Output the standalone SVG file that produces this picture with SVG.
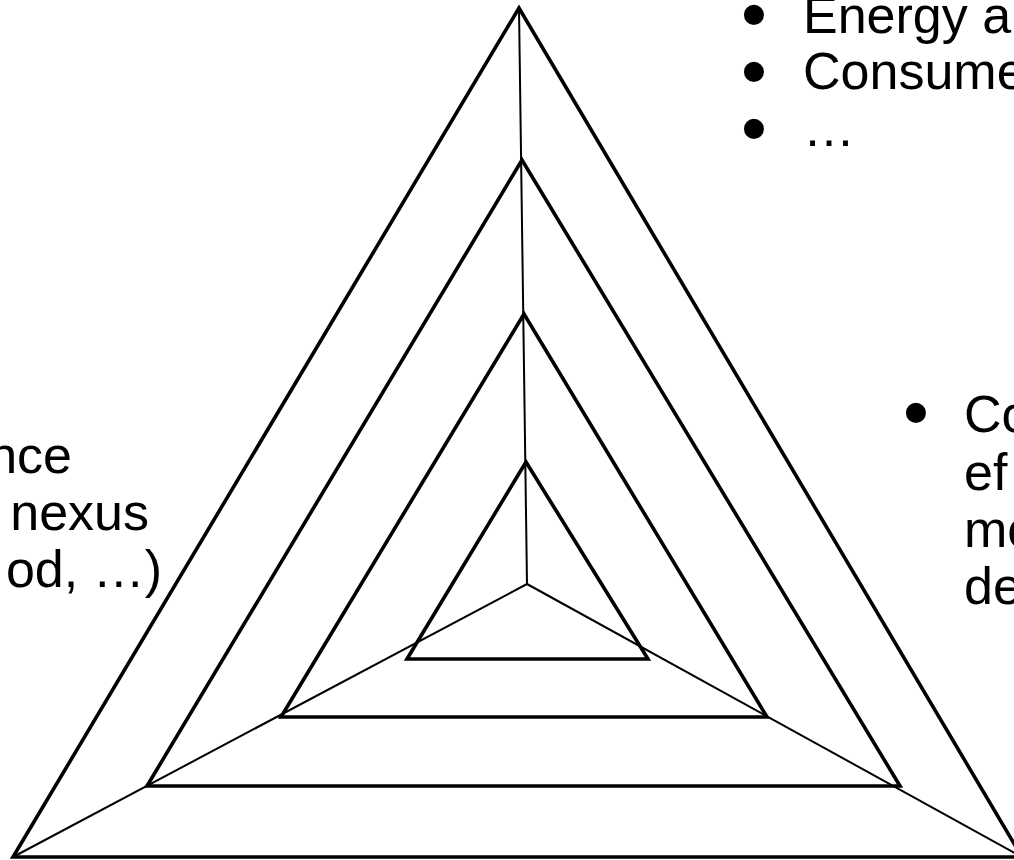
<svg xmlns="http://www.w3.org/2000/svg" width="1014" height="860" viewBox="0 0 1014 860">
<style>
.tri{fill:none;stroke:#000;stroke-width:3.6;stroke-linejoin:miter}
.spoke{fill:none;stroke:#000;stroke-width:2}
text{font-family:"Liberation Sans",Arial,sans-serif;font-size:52px;fill:#000}
text.b{font-size:74px}
</style>
<rect width="1014" height="860" fill="#fff"/>
<g id="connectors">
<line class="spoke" x1="527" y1="584" x2="519" y2="8"/>
<line class="spoke" x1="527" y1="584" x2="13" y2="857"/>
<line class="spoke" x1="527" y1="584" x2="1022" y2="857"/>
</g>
<g id="triangle1"><polygon class="tri" points="519,8 13,857 1022,857"/></g>
<g id="triangle2"><polygon class="tri" points="522,160 147,786 900,786"/></g>
<g id="triangle3"><polygon class="tri" points="524,314 281,717 767,717"/></g>
<g id="triangle4"><polygon class="tri" points="526,462 407,659 648,659"/></g>
<g id="label-top">
<text class="b" x="741" y="40">•</text><text x="803" y="33">Energy a</text>
<text class="b" x="741" y="97">•</text><text x="803" y="89">Consume</text>
<text class="b" x="741" y="154">•</text><text x="803" y="146">…</text>
</g>
<g id="label-left">
<text x="72" y="473" text-anchor="end">nce</text>
<text x="149" y="530" text-anchor="end">nexus</text>
<text x="162" y="587" text-anchor="end">od, …)</text>
</g>
<g id="label-right">
<text class="b" x="903" y="438">•</text><text x="964" y="432">Co</text>
<text x="964" y="490">ef</text>
<text x="964" y="547">mo</text>
<text x="964" y="604">de</text>
</g>
</svg>
